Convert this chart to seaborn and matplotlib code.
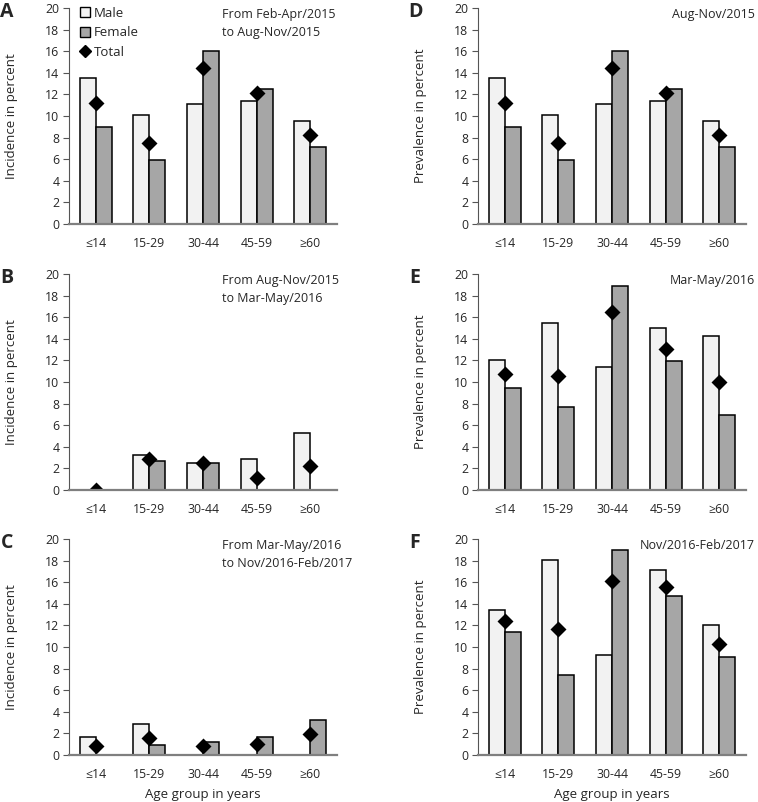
"""Incidence and prevalence by age group and sex, six panels."""
import numpy as np
import pandas as pd
import seaborn as sns
import matplotlib.pyplot as plt
from matplotlib.patches import Patch
from matplotlib.lines import Line2D

AGE_GROUPS = ["≤14", "15-29", "30-44", "45-59", "≥60"]

# incidence panels (left column)
a_male = [13.5, 10.1, 11.1, 11.4, 9.5]
a_female = [9.0, 5.9, 16.0, 12.5, 7.1]
a_total = [11.2, 7.5, 14.4, 12.1, 8.2]

b_male = [0.0, 3.2, 2.5, 2.9, 5.3]
b_female = [0.0, 2.7, 2.5, 0.0, 0.0]
b_total = [0.0, 2.9, 2.5, 1.1, 2.2]

c_male = [1.7, 2.9, 0.0, 0.0, 0.0]
c_female = [0.0, 0.9, 1.2, 1.7, 3.2]
c_total = [0.8, 1.6, 0.8, 1.0, 1.9]

# prevalence panels (right column)
d_male = [13.5, 10.1, 11.1, 11.4, 9.5]
d_female = [9.0, 5.9, 16.0, 12.5, 7.1]
d_total = [11.2, 7.5, 14.4, 12.1, 8.2]

e_male = [12.0, 15.5, 11.4, 15.0, 14.3]
e_female = [9.4, 7.7, 18.9, 11.9, 6.9]
e_total = [10.7, 10.6, 16.5, 13.1, 10.0]

f_male = [13.4, 18.1, 9.3, 17.1, 12.0]
f_female = [11.4, 7.4, 19.0, 14.7, 9.1]
f_total = [12.4, 11.7, 16.1, 15.6, 10.3]

PANELS = [
    ("A", "Incidence in percent", "From Feb-Apr/2015\nto Aug-Nov/2015", a_male, a_female, a_total),
    ("B", "Incidence in percent", "From Aug-Nov/2015\nto Mar-May/2016", b_male, b_female, b_total),
    ("C", "Incidence in percent", "From Mar-May/2016\nto Nov/2016-Feb/2017", c_male, c_female, c_total),
    ("D", "Prevalence in percent", "Aug-Nov/2015", d_male, d_female, d_total),
    ("E", "Prevalence in percent", "Mar-May/2016", e_male, e_female, e_total),
    ("F", "Prevalence in percent", "Nov/2016-Feb/2017", f_male, f_female, f_total),
]

COLORS = {"Male": "#f2f2f2", "Female": "#a6a6a6"}

sns.set_style("white")
plt.rcParams["font.family"] = ["Open Sans", "DejaVu Sans"]

fig = plt.figure(figsize=(7.58, 8.02), dpi=100)

lefts = [69 / 758, 478 / 758]
bottoms = [1 - 224 / 802, 1 - 490 / 802, 1 - 755 / 802]
width = 268 / 758
height = 216 / 802

for i, (letter, ylabel, note, male, female, total) in enumerate(PANELS):
    col, row = divmod(i, 3)
    ax = fig.add_axes([lefts[col], bottoms[row], width, height])

    df = pd.DataFrame({
        "age": AGE_GROUPS * 2,
        "sex": ["Male"] * 5 + ["Female"] * 5,
        "value": male + female,
    })
    sns.barplot(data=df, x="age", y="value", hue="sex", order=AGE_GROUPS,
                hue_order=["Male", "Female"], palette=COLORS, edgecolor="black",
                linewidth=1.1, width=0.6, legend=False, ax=ax)

    tot = pd.DataFrame({"age": AGE_GROUPS, "value": total})
    sns.pointplot(data=tot, x="age", y="value", order=AGE_GROUPS, color="black",
                  marker="D", markersize=6.5, linestyle="none", errorbar=None, ax=ax)

    ax.set_xlim(-0.5, 4.5)
    ax.set_ylim(0, 20)
    ax.set_yticks(np.arange(0, 21, 2))
    ax.tick_params(axis="y", left=True, length=4, width=0.8, labelsize=8.8, pad=3, color="#555555")
    ax.tick_params(axis="x", bottom=False, labelsize=8.8, pad=6)
    for s in ["top", "right"]:
        ax.spines[s].set_visible(False)
    ax.spines["left"].set_color("#555555")
    ax.spines["left"].set_linewidth(0.8)
    ax.spines["bottom"].set_color("#7f7f7f")
    ax.spines["bottom"].set_linewidth(1.6)
    ax.spines["bottom"].set_zorder(5)

    ax.set_ylabel(ylabel, fontsize=9.5)
    ax.yaxis.set_label_coords(-0.19, 0.5)
    if row == 2:
        ax.set_xlabel("Age group in years", fontsize=9.5, labelpad=5)
    else:
        ax.set_xlabel("")

    if col == 0:
        ax.text(0.571, 1.0, note, transform=ax.transAxes, ha="left", va="top",
                fontsize=9, linespacing=1.5)
        ax.text(-0.231, 0.98, letter, transform=ax.transAxes, ha="center", va="center",
                fontsize=14, fontweight="bold")
    else:
        ax.text(1.033, 1.0, note, transform=ax.transAxes, ha="right", va="top",
                fontsize=9, linespacing=1.5)
        ax.text(-0.235, 0.98, letter, transform=ax.transAxes, ha="center", va="center",
                fontsize=14, fontweight="bold")

    if letter == "A":
        handles = [
            Patch(facecolor=COLORS["Male"], edgecolor="black", linewidth=1.0, label="Male"),
            Patch(facecolor=COLORS["Female"], edgecolor="black", linewidth=1.0, label="Female"),
            Line2D([], [], color="black", marker="D", markersize=6, linestyle="none", label="Total"),
        ]
        ax.legend(handles=handles, loc="upper left", bbox_to_anchor=(0.02, 1.03),
                  frameon=False, fontsize=9.5, handlelength=0.8, handleheight=0.8,
                  handletextpad=0.3, labelspacing=0.5, borderaxespad=0)

fig.savefig("out.png", dpi=100)
